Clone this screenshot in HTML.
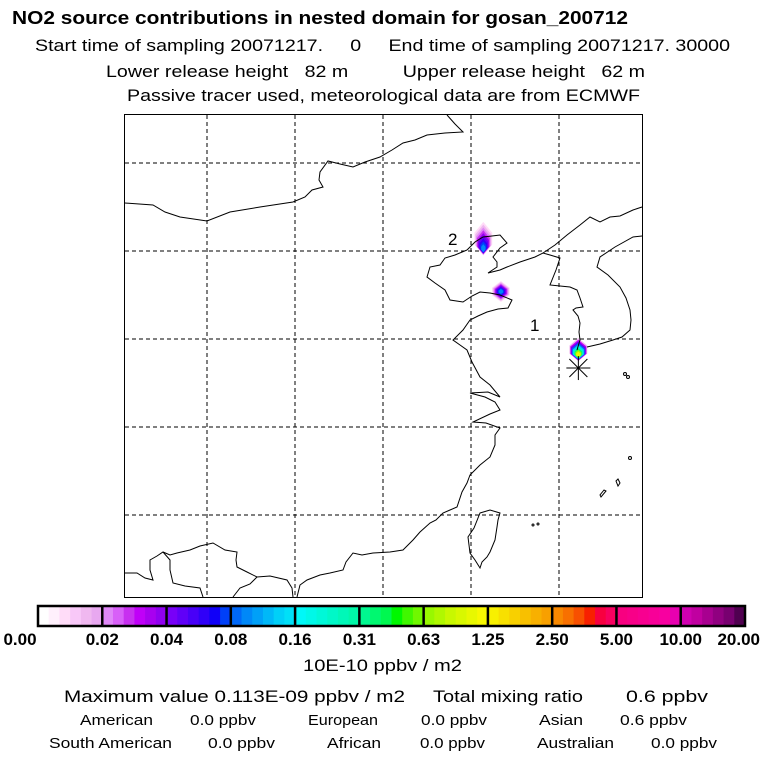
<!DOCTYPE html>
<html><head><meta charset="utf-8"><style>
html,body{margin:0;padding:0;background:#fff;}
svg{display:block;font-family:"Liberation Sans",Arial,sans-serif;}
</style></head><body>
<svg id="chart" width="768" height="768" viewBox="0 0 768 768" xmlns="http://www.w3.org/2000/svg">
<rect width="768" height="768" fill="#fff"/>
<g fill="#000">
<text x="12" y="24" font-size="18" font-weight="bold" textLength="616" lengthAdjust="spacingAndGlyphs">NO2 source contributions in nested domain for gosan_200712</text>
<text x="35" y="51" font-size="17" textLength="695" lengthAdjust="spacingAndGlyphs" xml:space="preserve">Start time of sampling 20071217.     0     End time of sampling 20071217. 30000</text>
<text x="106" y="77" font-size="17" textLength="539" lengthAdjust="spacingAndGlyphs" xml:space="preserve">Lower release height   82 m          Upper release height   62 m</text>
<text x="127" y="101" font-size="17" textLength="513" lengthAdjust="spacingAndGlyphs">Passive tracer used, meteorological data are from ECMWF</text>
</g>
<g id="map">
<g id="grid" stroke="#000" stroke-width="1" stroke-dasharray="4,3"></g>
<g id="plumes"></g>
<g fill="none" stroke="#000" stroke-width="1">
<polyline points="125,203 153,205 165,212 180,217 207,221 230,212 260,207 293,202 305,197 312,190 323,187 319,180 320,172 328,161 340,164 353,167 365,162 380,157 392,150 403,143 415,140 427,135 445,133 463,132 455,124 447,115"/>
<polyline points="467,250 455,255 445,258 440,265 430,267 427,277 435,283 445,290 450,300 463,302 472,296 480,292 490,293 500,295 512,300 508,308 498,309 487,312 478,316 470,320 463,330 453,340 460,345 467,350 472,362 480,377 490,385 500,397 488,392 470,393 485,397 495,402 500,410 490,414 473,422 486,423 500,428 495,435 495,445 490,457 480,465 470,475 467,483 462,492 457,507 450,510 443,513 436,520 430,523 420,532 413,540 403,550 390,552 373,553 362,555 353,553 346,562 343,570 330,573 320,575 307,580 300,585 297,597"/>
<polyline points="467,250 475,242 483,237 492,236 500,235 507,243 500,248 493,257 497,262 497,267 488,273 500,270 507,267 520,262 535,257 543,253 550,255 560,258 556,270 550,285 560,286 570,287 577,290 580,298 583,307 576,308 573,310 578,316 580,323 579,332 580,340 577,350"/>
<polyline points="543,253 555,245 567,235 580,225 590,217 600,222 610,217 620,216 633,210 642,207"/>
<polyline points="642,236 633,237 615,247 600,257 597,267 608,275 620,287 626,298 630,310 631,320 630,330 622,337 613,340 600,344 587,347"/>
<polyline points="125,573 137,573 145,578 153,580 150,570 150,560 157,556 163,552 170,555 177,553 190,550 200,546 213,543 225,550 237,552 236,560 237,567 247,572 257,577 270,576 287,580 292,588 293,597"/>
<polyline points="163,552 170,560 170,570 173,583 185,586 200,588 203,597"/>
<polyline points="233,597 240,588 250,584 257,577"/>
<polygon points="480,513 490,510 500,513 498,520 497,527 495,540 490,552 487,557 482,562 480,568 475,560 470,553 469,545 468,537 474,528"/>
<polygon points="616,481 618,479 620,483 618,486"/>
<polygon points="604,490 600,495 601,497 606,491"/>
<circle cx="628" cy="377" r="1.5"/>
<circle cx="625" cy="374" r="1.5"/>
<circle cx="630" cy="458" r="1.5"/>
<circle cx="533" cy="525" r="1"/>
<circle cx="538" cy="524" r="1"/>
</g>
<g id="receptor" stroke="#000" stroke-width="1"></g>
<text x="448" y="245" font-size="17">2</text>
<text x="530" y="331" font-size="17">1</text>
<rect x="124.5" y="114.5" width="518" height="483" fill="none" stroke="#000" stroke-width="1"/>
</g>
<g id="colorbar"></g>
<g fill="#000" font-size="17">
<text x="303" y="671" textLength="159" lengthAdjust="spacingAndGlyphs">10E-10 ppbv / m2</text>
<text x="64" y="702" textLength="341" lengthAdjust="spacingAndGlyphs">Maximum value  0.113E-09 ppbv / m2</text>
<text x="433" y="702" textLength="150" lengthAdjust="spacingAndGlyphs">Total mixing ratio</text>
<text x="626" y="702" textLength="82" lengthAdjust="spacingAndGlyphs">0.6 ppbv</text>
<g font-size="15">
<text x="80" y="725" textLength="73" lengthAdjust="spacingAndGlyphs">American</text>
<text x="190" y="725" textLength="66" lengthAdjust="spacingAndGlyphs">0.0 ppbv</text>
<text x="308" y="725" textLength="70" lengthAdjust="spacingAndGlyphs">European</text>
<text x="421" y="725" textLength="66" lengthAdjust="spacingAndGlyphs">0.0 ppbv</text>
<text x="539" y="725" textLength="44" lengthAdjust="spacingAndGlyphs">Asian</text>
<text x="620" y="725" textLength="67" lengthAdjust="spacingAndGlyphs">0.6 ppbv</text>
<text x="49" y="748" textLength="123" lengthAdjust="spacingAndGlyphs">South American</text>
<text x="208" y="748" textLength="67" lengthAdjust="spacingAndGlyphs">0.0 ppbv</text>
<text x="327" y="748" textLength="54" lengthAdjust="spacingAndGlyphs">African</text>
<text x="420" y="748" textLength="65" lengthAdjust="spacingAndGlyphs">0.0 ppbv</text>
<text x="537" y="748" textLength="77" lengthAdjust="spacingAndGlyphs">Australian</text>
<text x="651" y="748" textLength="66" lengthAdjust="spacingAndGlyphs">0.0 ppbv</text>
</g>
</g>
</svg>
<script>
var tickLabels = ["0.00","0.02","0.04","0.08","0.16","0.31","0.63","1.25","2.50","5.00","10.00","20.00"];
var cellColors = [
"#ffffff","#fff0fc","#ffdcf8","#f8c8f8","#f0b8f0","#e8a8f0",
"#e088f8","#d860f8","#c830f0","#c000f8","#a800f0","#9000f0",
"#7800f8","#6000f8","#4800f8","#3000f8","#1000f8","#0040f8",
"#0068f8","#0088f8","#00a0f8","#00b8f8","#00d0f8","#00e0f8",
"#00f8f8","#00f8e8","#00f8d8","#00f8c8","#00f8b8","#00f8a8",
"#00f890","#00f870","#00f850","#00f800","#40f800","#70f800",
"#98f800","#b0f800","#c8f800","#d8f800","#e8f800","#f8f800",
"#f8f000","#f8e000","#f8d000","#f8c000","#f8b000","#f8a000",
"#f88800","#f87000","#f85000","#f82000","#f80040","#f80060",
"#f80080","#f80088","#f80090","#f80098","#f800a0","#e800b0",
"#d000b0","#c000a0","#a80090","#900080","#780070","#500050"];
var gridLons = [105,110,115,120,125];
var gridLats = [45,40,35,30,25];
var sourceLons = [120.7,121.7,126.1];
var sourceLats = [40.7,37.7,34.4];
var sourcePeakIdx = [19,19,40];
var sourceStretch = [1.6,1,1.1];
var sourceShift = [1.2,0,0.6];
var receptorLon = [126.1];
var receptorLat = [33.35];

var NS="http://www.w3.org/2000/svg";
function X(lon){return 471+(lon-120)*17.6;}
function Y(lat){return 339-(lat-35)*17.6;}
function mk(tag,attrs,parent){var e=document.createElementNS(NS,tag);for(var k in attrs)e.setAttribute(k,attrs[k]);parent.appendChild(e);return e;}

var grid=document.getElementById('grid');
gridLons.forEach(function(lon){
  var l=mk('line',{x1:X(lon),x2:X(lon),y1:115,y2:597},grid);
  
  
});
gridLats.forEach(function(lat){
  var l=mk('line',{x1:125,x2:642,y1:Y(lat),y2:Y(lat)},grid);
  
  
});

var plumes=document.getElementById('plumes');
sourceLons.forEach(function(lon,i){
  var cx=X(lon),cy=Y(sourceLats[i]),peak=sourcePeakIdx[i],s=sourceStretch[i],sh=sourceShift[i];
  var g=mk('g',{},plumes);
  
  
  var steps=9;
  for(var k=0;k<steps;k++){
    var r=10.5-k*1.0;
    var idx=Math.max(2,Math.round(peak*(k+1)/steps));
    var rx=r, ry=r*s;
    var oy=sh*k;
    var p=mk('polygon',{points:(cx)+','+(cy+oy-ry)+' '+(cx+rx*0.85)+','+(cy+oy-ry*0.35)+' '+(cx+rx*0.85)+','+(cy+oy+ry*0.35)+' '+(cx)+','+(cy+oy+ry)+' '+(cx-rx*0.85)+','+(cy+oy+ry*0.35)+' '+(cx-rx*0.85)+','+(cy+oy-ry*0.35),fill:cellColors[idx]},g);
    
    
  }
});

var rec=document.getElementById('receptor');
receptorLon.forEach(function(lon,i){
  var cx=X(lon),cy=Y(receptorLat[i]);
  [[0,12],[12,0],[9,9],[9,-9]].forEach(function(d){
    var l=mk('line',{x1:cx-d[0],y1:cy-d[1],x2:cx+d[0],y2:cy+d[1]},rec);
    
    
  });
});

var cb=document.getElementById('colorbar');
var cbX0=38,cbX1=745,cbY=606,cbH=20;
var segW=(cbX1-cbX0)/(tickLabels.length-1);
var cellW=(cbX1-cbX0)/cellColors.length;
cellColors.forEach(function(c,i){
  var r=mk('rect',{x:cbX0+i*cellW,y:cbY,width:cellW+0.6,height:cbH,fill:c},cb);
  
  
});
tickLabels.forEach(function(t,i){
  var x=cbX0+i*segW;
  if(i>0&&i<tickLabels.length-1){
    var l=mk('line',{x1:x,x2:x,y1:cbY,y2:cbY+cbH,stroke:'#000','stroke-width':2.5},cb);
    
    
  }
  var anchor='middle',tx=x;
  if(i===tickLabels.length-1){anchor='end';tx=760;}
  if(i===0){tx=20;}
  var tt=mk('text',{x:tx,y:645,'font-size':17,'font-weight':'bold','text-anchor':anchor},cb);
  tt.textContent=t;
  
  
});
var fr=mk('rect',{x:cbX0,y:cbY,width:cbX1-cbX0,height:cbH,fill:'none',stroke:'#000','stroke-width':2.5},cb);


</script>
</body></html>
